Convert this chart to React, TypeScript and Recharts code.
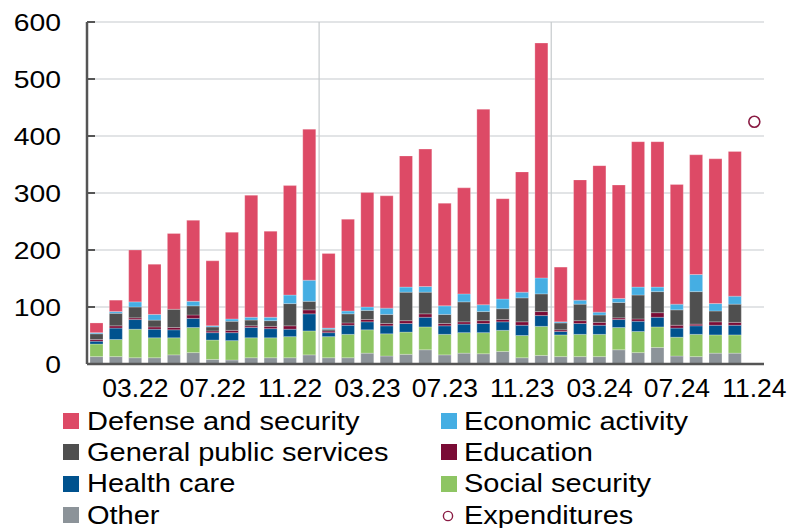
import {
  ComposedChart,
  Bar,
  Line,
  XAxis,
  YAxis,
  CartesianGrid,
  ReferenceLine,
} from 'recharts'

const months = [
  '01.22', '02.22', '03.22', '04.22', '05.22', '06.22', '07.22', '08.22', '09.22', '10.22', '11.22', '12.22',
  '01.23', '02.23', '03.23', '04.23', '05.23', '06.23', '07.23', '08.23', '09.23', '10.23', '11.23', '12.23',
  '01.24', '02.24', '03.24', '04.24', '05.24', '06.24', '07.24', '08.24', '09.24', '10.24', '11.24',
]
const tickMonths = ['03.22', '07.22', '11.22', '03.23', '07.23', '11.23', '03.24', '07.24', '11.24']
const yearStarts = ['01.23', '01.24']
const yTicks = [0, 100, 200, 300, 400, 500, 600]

// bn, stacked bottom to top
const other = [13, 13, 11, 11, 16, 20, 8, 7, 11, 11, 11, 16, 11, 11, 19, 14, 17, 25, 16, 19, 18, 22, 11, 15, 13, 13, 13, 25, 20, 29, 14, 13, 19, 19, null]
const social = [22, 30, 50, 35, 30, 44, 34, 34, 35, 35, 37, 42, 37, 41, 41, 39, 39, 40, 36, 36, 37, 37, 39, 51, 38, 39, 39, 39, 37, 36, 33, 39, 32, 32, null]
const health = [5, 20, 17, 15, 14, 16, 13, 14, 18, 16, 13, 30, 7, 16, 14, 14, 15, 17, 15, 15, 16, 15, 18, 19, 6, 19, 16, 14, 18, 17, 16, 15, 17, 17, null]
const education = [3, 4, 3, 4, 4, 6, 3, 4, 3, 4, 6, 7, 3, 4, 4, 4, 5, 6, 4, 4, 5, 4, 6, 7, 3, 5, 5, 3, 4, 8, 5, 3, 6, 5, null]
const publicServices = [10, 22, 19, 12, 32, 16, 7, 16, 10, 10, 39, 15, 3, 16, 16, 16, 50, 38, 16, 35, 16, 19, 42, 31, 12, 29, 13, 27, 42, 37, 27, 57, 19, 32, null]
const economic = [2, 3, 9, 10, -5, 8, 2, 4, 5, 6, 15, 37, 2, 5, 6, 11, 9, 10, 15, 14, 12, 17, 10, 28, 2, 7, 5, 7, 14, 8, 10, 30, 13, 14, null]
const defense = [17, 20, 91, 88, 133, 142, 114, 152, 214, 151, 192, 265, 131, 161, 201, 197, 230, 241, 180, 186, 343, 176, 211, 412, 96, 211, 257, 199, 255, 255, 210, 210, 254, 254, null]
const expenditures = [null, null, null, null, null, null, null, null, null, null, null, null, null, null, null, null, null, null, null, null, null, null, null, null, null, null, null, null, null, null, null, null, null, null, 425]

const series = [
  { key: 'other', name: 'Other', color: '#8c9399', values: other },
  { key: 'social', name: 'Social security', color: '#8ec563', values: social },
  { key: 'health', name: 'Health care', color: '#00528e', values: health },
  { key: 'education', name: 'Education', color: '#7a0b35', values: education },
  { key: 'gps', name: 'General public services', color: '#4f4f4f', values: publicServices },
  { key: 'economic', name: 'Economic activity', color: '#45aee3', values: economic },
  { key: 'defense', name: 'Defense and security', color: '#dd4a66', values: defense },
]
const expColor = '#8a1b43'

const data = months.map((m, i) => {
  const row: Record<string, any> = { m, exp: expenditures[i] }
  series.forEach((s) => {
    row[s.key] = s.values[i]
  })
  return row
})

const font = '"Liberation Sans", Arial, sans-serif'
const frame = { stroke: '#555', strokeWidth: 2.5 }

const XTick = ({ x, y, payload }: any) => {
  if (!tickMonths.includes(payload.value)) return null
  return (
    <text
      transform={`translate(${x},${y + 33}) scale(1.06,1)`}
      textAnchor="middle"
      fontSize={25}
      fontFamily={font}
      fill="#000"
    >
      {payload.value}
    </text>
  )
}

const YTick = ({ x, y, payload }: any) => (
  <g>
    <line x1={x + 26} x2={x + 34} y1={y} y2={y} stroke="#555" strokeWidth={2} />
    <text
      transform={`translate(${x},${y}) scale(1.18,1)`}
      dy="0.36em"
      textAnchor="end"
      fontSize={24}
      fontFamily={font}
      fill="#000"
    >
      {payload.value}
    </text>
  </g>
)

// legend: two columns, left then right
const legendItems = [
  { name: 'Defense and security', color: '#dd4a66', col: 0, row: 0 },
  { name: 'Economic activity', color: '#45aee3', col: 1, row: 0 },
  { name: 'General public services', color: '#4f4f4f', col: 0, row: 1 },
  { name: 'Education', color: '#7a0b35', col: 1, row: 1 },
  { name: 'Health care', color: '#00528e', col: 0, row: 2 },
  { name: 'Social security', color: '#8ec563', col: 1, row: 2 },
  { name: 'Other', color: '#8c9399', col: 0, row: 3 },
  { name: 'Expenditures', color: expColor, col: 1, row: 3, circle: true },
]

export default function App() {
  return (
    <div style={{ position: 'absolute', left: 0, top: 0, width: 791, height: 528, background: '#fff', fontFamily: font }}>
      <ComposedChart
        width={791}
        height={406}
        data={data}
        stackOffset="sign"
        margin={{ top: 22, right: 27, bottom: 0, left: 0 }}
      >
        <CartesianGrid vertical={false} stroke="#d8dbde" strokeWidth={1.5} />
        {yearStarts.map((m) => (
          <ReferenceLine key={m} x={m} position="start" stroke="#c6cacd" strokeWidth={1.2} />
        ))}
        <XAxis
          dataKey="m"
          interval={0}
          height={42}
          tickSize={0}
          tickMargin={0}
          tickLine={false}
          axisLine={frame}
          tick={<XTick />}
        />
        <XAxis xAxisId="top" dataKey="m" orientation="top" height={0} tick={false} tickLine={false} axisLine={frame} />
        <YAxis
          domain={[0, 600]}
          ticks={yTicks}
          allowDataOverflow
          width={87}
          tickSize={0}
          tickMargin={26}
          tickLine={false}
          axisLine={frame}
          tick={<YTick />}
        />
        <YAxis yAxisId="right" orientation="right" domain={[0, 600]} width={0} tick={false} tickLine={false} axisLine={frame} />
        {series.map((s) => (
          <Bar
            key={s.key}
            dataKey={s.key}
            name={s.name}
            stackId="a"
            fill={s.color}
            stroke="#ffffff"
            strokeOpacity={0.3}
            strokeWidth={0.8}
            barSize={13}
            isAnimationActive={false}
          />
        ))}
        <Line
          dataKey="exp"
          name="Expenditures"
          stroke="none"
          dot={{ r: 5.5, stroke: expColor, strokeWidth: 1.6, fill: '#fff' }}
          activeDot={false}
          isAnimationActive={false}
        />
      </ComposedChart>

      {legendItems.map((it) => (
        <div
          key={it.name}
          style={{
            position: 'absolute',
            left: it.col === 0 ? 63 : 441,
            top: 406 + it.row * 31.4,
            height: 30,
            display: 'flex',
            alignItems: 'center',
            whiteSpace: 'nowrap',
          }}
        >
          {it.circle ? (
            <svg width={17} height={16} style={{ marginRight: 6 }}>
              <circle cx={7} cy={9} r={4.6} fill="#fff" stroke={it.color} strokeWidth={1.4} />
            </svg>
          ) : (
            <div style={{ width: 16, height: 16, background: it.color, marginRight: it.col === 0 ? 8 : 7 }} />
          )}
          <span
            style={{
              fontSize: 25,
              color: '#000',
              display: 'inline-block',
              transform: 'scaleX(1.16)',
              transformOrigin: 'left center',
            }}
          >
            {it.name}
          </span>
        </div>
      ))}
    </div>
  )
}
